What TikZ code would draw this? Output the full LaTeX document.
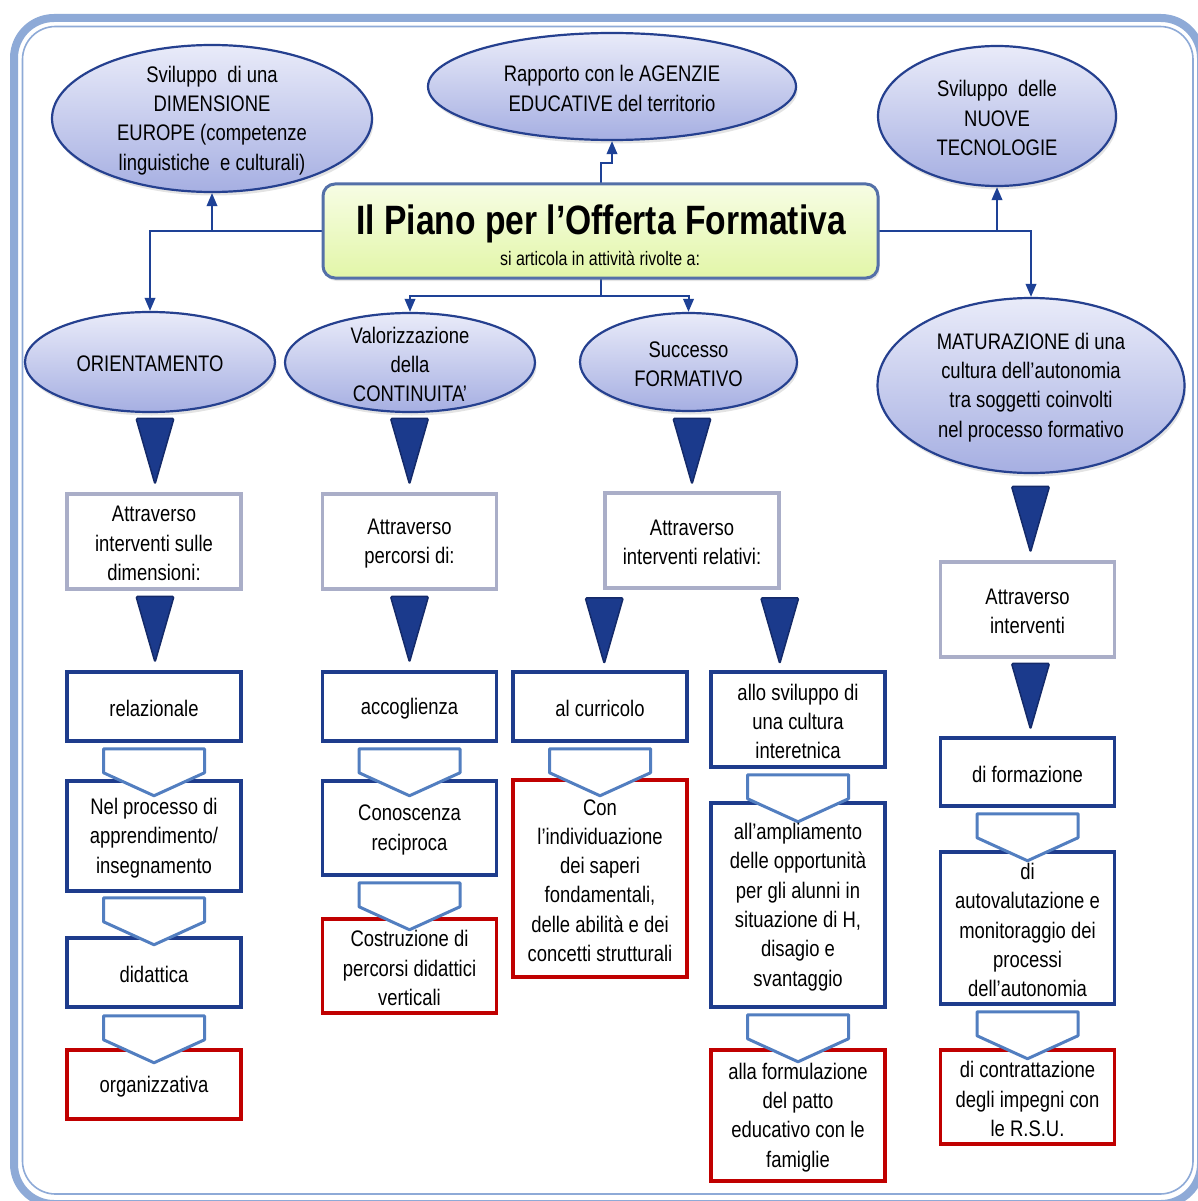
\documentclass[tikz,border=0pt]{standalone}
\usepackage{fontspec}
\setmainfont[FakeStretch=0.82]{Liberation Sans}
\usetikzlibrary{shapes.geometric,arrows.meta,calc,shadows}

\definecolor{ellD}{RGB}{37,64,143}
\definecolor{ellT}{RGB}{233,235,249}
\definecolor{ellB}{RGB}{166,175,226}
\definecolor{titT}{RGB}{247,253,228}
\definecolor{titB}{RGB}{226,246,168}
\definecolor{titD}{RGB}{84,112,168}
\definecolor{connC}{RGB}{30,65,150}
\definecolor{triF}{RGB}{27,58,140}
\definecolor{triD}{RGB}{20,42,105}
\definecolor{grayD}{RGB}{170,174,200}
\definecolor{blueD}{RGB}{30,60,140}
\definecolor{redD}{RGB}{192,0,0}
\definecolor{chevD}{RGB}{82,126,192}
\definecolor{frameB}{RGB}{142,170,215}

\tikzset{
  body/.style={font=\fontsize{22.5}{29.3}\selectfont, align=center, inner sep=0pt, yshift=-2pt},
  ell/.style={ellipse, draw=ellD, line width=2.2pt, top color=ellT, bottom color=ellB, inner sep=0pt,
    drop shadow={opacity=0.22, shadow xshift=1.5pt, shadow yshift=-3.5pt}},
  titlebox/.style={rectangle, rounded corners=12pt, draw=titD, line width=3pt, top color=titT, bottom color=titB,
    drop shadow={opacity=0.2, shadow xshift=1.5pt, shadow yshift=-3pt}},
  bx/.style={rectangle, line width=3.5pt, minimum width=174pt, inner sep=0pt, fill=white},
  graybox/.style={bx, draw=grayD},
  bluebox/.style={bx, draw=blueD},
  redbox/.style={bx, draw=redD},
  conn/.style={draw=connC, line width=2pt, -{Triangle[length=13pt,width=10.5pt]}},
  tri/.pic={\draw[fill=triF, draw=triD, line width=1.5pt, line join=round, rounded corners=1.5pt]
      (-19,0) -- (19,0) -- (0,66) -- cycle;},
  chev/.pic={\draw[fill=white, draw=chevD, line width=3pt, line join=round]
      (-50.5,0) -- (50.5,0) -- (50.5,24) -- (0,47) -- (-50.5,24) -- cycle;}
}

\begin{document}
\begin{tikzpicture}[x=1pt,y=-1pt]
\useasboundingbox (0,0) rectangle (1197,1201);
\fill[white] (0,0) rectangle (1197,1201);

% outer frame
\draw[frameB, line width=8pt, rounded corners=40pt] (14,18) rectangle (1201,1204);
\draw[frameB, line width=1.6pt, rounded corners=33pt] (22.5,26.5) rectangle (1193,1194);

% top ellipses
\node[ell, minimum width=320pt, minimum height=147pt] (e1) at (212,118.5) {};
\node[body] (e1t) at (e1) {Sviluppo\ \ di una\\DIMENSIONE\\EUROPE (competenze\\linguistiche\ \ e culturali)};
\node[ell, minimum width=368pt, minimum height=107pt] (e2) at (612,86.5) {};
\node[body] (e2t) at (e2) {Rapporto con le AGENZIE\\EDUCATIVE del territorio};
\node[ell, minimum width=238pt, minimum height=140pt] (e3) at (997,116) {};
\node[body] (e3t) at (e3) {Sviluppo\ \ delle\\NUOVE\\TECNOLOGIE};

% second row ellipses
\node[ell, minimum width=250pt, minimum height=100pt] (orient) at (150,362) {};
\node[body] (orientt) at (orient) {ORIENTAMENTO};
\node[ell, minimum width=250pt, minimum height=99pt] (valor) at (410,362.5) {};
\node[body] (valort) at (valor) {Valorizzazione\\della\\CONTINUITA’};
\node[ell, minimum width=217pt, minimum height=98pt] (succ) at (688.5,362) {};
\node[body] (succt) at (succ) {Successo\\FORMATIVO};
\node[ell, minimum width=307pt, minimum height=175pt] (mat) at (1031,385.5) {};
\node[body] (matt) at (mat) {MATURAZIONE di una\\cultura dell’autonomia\\tra soggetti coinvolti\\nel processo formativo};

% title box (shape)
\coordinate (tc) at (600.5,231);
\node[minimum width=555pt, minimum height=94pt, inner sep=0pt] (title) at (tc) {};

% connectors
\draw[conn] (title.west) -| (orient.north);
\draw[conn] (title.west -| e1.south) -- (e1.south);
\draw[conn] (title.north) -- ++(0,-21) -| (e2.south);
\draw[conn] (title.east) -| (mat.north);
\draw[conn] (title.east -| e3.south) -- (e3.south);
\draw[conn] (title.south) -- ++(0,18) -| (valor.north);
\draw[conn] (title.south) -- ++(0,18) -| (succ.north);

\node[titlebox, minimum width=555pt, minimum height=94pt, inner sep=0pt] (titleb) at (tc) {};
\node[font=\fontsize{41}{44}\selectfont\bfseries, inner sep=0pt, anchor=base] (tt) at (601,234) {Il Piano per l’Offerta Formativa};
\node[font=\fontsize{19.5}{22}\selectfont, inner sep=0pt, anchor=base] (ts) at (600,265) {si articola in attività rivolte a:};

% boxes: column 1
\node[graybox, minimum height=95pt] (att1) at (154,541.5) {};
\node[bluebox, minimum height=69pt] (relaz) at (154,706.5) {};
\node[bluebox, minimum height=110pt] (nelp) at (154,836) {};
\node[bluebox, minimum height=69pt] (didat) at (154,972.5) {};
\node[redbox, minimum height=69pt] (organ) at (154,1084.5) {};
% column 2
\node[graybox, minimum height=95pt] (att2) at (409.5,541.5) {};
\node[bluebox, minimum height=69pt] (accog) at (409.5,706.5) {};
\node[bluebox, minimum height=94pt] (conosc) at (409.5,828) {};
\node[redbox, minimum height=94pt] (costr) at (409.5,966) {};
% column 3
\node[graybox, minimum height=95pt] (att3) at (692,540.5) {};
\node[bluebox, minimum height=69pt] (curr) at (600,706.5) {};
\node[redbox, minimum height=197pt] (conl) at (600,878.5) {};
\node[bluebox, minimum height=95pt] (allo) at (798,719.5) {};
\node[bluebox, minimum height=204pt] (ampl) at (798,905) {};
\node[redbox, minimum height=131pt] (formu) at (798,1115.5) {};
% column 4
\node[graybox, minimum height=95pt] (att4) at (1027.5,609.5) {};
\node[bluebox, minimum height=68pt] (diform) at (1027.5,772) {};
\node[bluebox, minimum height=152pt] (autov) at (1027.5,928) {};
\node[redbox, minimum height=94pt] (contr) at (1027.5,1097) {};

% big triangles
\pic at ($(att1.north)+(1,-74)$) {tri};
\pic at ($(relaz.north)+(1,-74)$) {tri};
\pic at ($(att2.north)+(0,-74)$) {tri};
\pic at ($(accog.north)+(0,-74)$) {tri};
\pic at ($(att3.north)+(0,-73)$) {tri};
\pic at ($(att3.south west)+(1,8)$) {tri};
\pic at ($(att3.south east)+(-1,8)$) {tri};
\pic at ($(att4.north)+(3,-74)$) {tri};
\pic at ($(diform.north)+(3,-73)$) {tri};

% chevrons
\pic at ($(relaz.south)+(0,6)$) {chev};
\pic at ($(nelp.south)+(0,5)$) {chev};
\pic at ($(didat.south)+(0,7)$) {chev};
\pic at ($(accog.south)+(0,6)$) {chev};
\pic at ($(conosc.south)+(0,6)$) {chev};
\pic at ($(curr.south)+(0,6)$) {chev};
\pic at ($(allo.south)+(0,6)$) {chev};
\pic at ($(ampl.south)+(0,6)$) {chev};
\pic at ($(diform.south)+(0,6)$) {chev};
\pic at ($(autov.south)+(0,6)$) {chev};

% box texts
\node[body] (att1t) at (att1) {Attraverso\\interventi sulle\\dimensioni:};
\node[body] (relazt) at (relaz) {relazionale};
\node[body] (nelpt) at (nelp) {Nel processo di\\apprendimento/\\insegnamento};
\node[body] (didatt) at (didat) {didattica};
\node[body] (organt) at (organ) {organizzativa};
\node[body] (att2t) at (att2) {Attraverso\\percorsi di:};
\node[body] (accogt) at (accog) {accoglienza};
\node[body] (conosct) at (conosc) {Conoscenza\\reciproca};
\node[body] (costrt) at (costr) {Costruzione di\\percorsi didattici\\verticali};
\node[body] (att3t) at (att3) {Attraverso\\interventi relativi:};
\node[body] (currt) at (curr) {al curricolo};
\node[body] (conlt) at (conl) {Con\\l’individuazione\\dei saperi\\fondamentali,\\delle abilità e dei\\concetti strutturali};
\node[body] (allot) at (allo) {allo sviluppo di\\una cultura\\interetnica};
\node[body] (amplt) at (ampl) {all’ampliamento\\delle opportunità\\per gli alunni in\\situazione di H,\\disagio e\\svantaggio};
\node[body] (formut) at (formu) {alla formulazione\\del patto\\educativo con le\\famiglie};
\node[body] (att4t) at (att4) {Attraverso\\interventi};
\node[body] (diformt) at (diform) {di formazione};
\node[body] (autovt) at (autov) {di\\autovalutazione e\\monitoraggio dei\\processi\\dell’autonomia};
\node[body] (contrt) at (contr) {di contrattazione\\degli impegni con\\le R.S.U.};
\end{tikzpicture}
\end{document}
